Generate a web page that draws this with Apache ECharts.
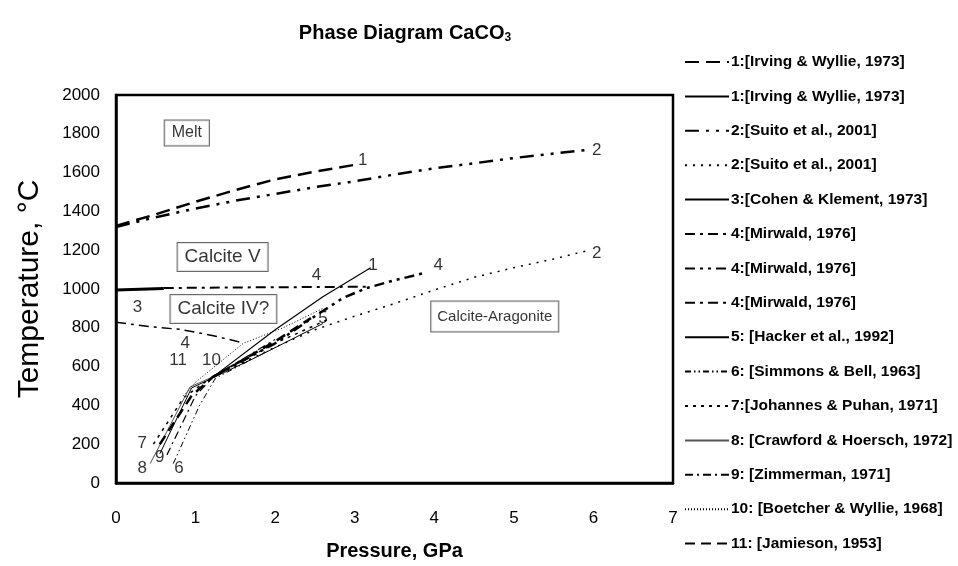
<!DOCTYPE html>
<html>
<head>
<meta charset="utf-8">
<script src="https://cdn.jsdelivr.net/npm/echarts@6/dist/echarts.min.js"></script>
<style>
html, body { margin: 0; background: #fff; }
#main { width: 958px; height: 566px; }
</style>
</head>
<body>
<div id="main"></div>
<script>
// [pressure GPa, temperature C]
var irving_melt = [[0, 1325], [0.5, 1385], [1, 1450], [1.5, 1510], [2, 1565], [2.5, 1605], [3, 1640]];
var irving_cc_ar = [[1.22, 547], [2, 790], [2.6, 960], [3.2, 1110]];
var suito_melt = [[0, 1320], [0.5, 1370], [1, 1415], [1.5, 1455], [2, 1490], [2.5, 1525], [3, 1555], [3.5, 1590], [4, 1622], [4.5, 1648], [5, 1675], [5.5, 1698], [5.95, 1718]];
var suito_cc_ar = [[1.22, 547], [2, 700], [2.5, 790], [3, 860], [3.5, 925], [4, 995], [4.5, 1060], [5, 1110], [5.5, 1155], [5.95, 1200]];
var cohen = [[0, 995], [0.6, 1003]];
var mirwald_v = [[0.6, 1005], [1.5, 1008], [2.5, 1010], [3.2, 1012]];
var mirwald_ar = [[1.22, 547], [2, 720], [2.5, 860], [2.85, 953], [3.15, 1005], [3.5, 1045], [3.9, 1085]];
var mirwald_iv = [[0, 828], [0.45, 805], [0.8, 792], [1.05, 773], [1.3, 752], [1.6, 722]];
var hacker = [[0.55, 150], [0.95, 490], [1.77, 650], [2.6, 822]];
var simmons = [[0.72, 100], [1.05, 400], [1.25, 540], [2, 700]];
var johannes = [[0.47, 200], [0.85, 440], [1.22, 550], [2, 720], [2.7, 850]];
var crawford = [[0.43, 100], [0.93, 495], [1.22, 548]];
var zimmerman = [[0.64, 145], [1, 450], [1.22, 547], [2, 740]];
var boetcher = [[0.85, 450], [1, 520], [1.6, 720], [2.1, 800], [2.6, 900]];
var jamieson = [[0.55, 200], [0.95, 450], [1.22, 547], [2, 730], [2.45, 850]];

var legend_names = [
    '1:[Irving & Wyllie, 1973]', '1:[Irving & Wyllie, 1973]#b',
    '2:[Suito et al., 2001]', '2:[Suito et al., 2001]#b',
    '3:[Cohen & Klement, 1973]',
    '4:[Mirwald, 1976]', '4:[Mirwald, 1976]#b', '4:[Mirwald, 1976]#c',
    '5: [Hacker et al., 1992]', '6: [Simmons & Bell, 1963]', '7:[Johannes & Puhan, 1971]',
    '8: [Crawford & Hoersch, 1972]', '9: [Zimmerman, 1971]', '10: [Boetcher & Wyllie, 1968]',
    '11: [Jamieson, 1953]'
];

// curve numbers written next to the lines
var curve_labels = [
    [3.1, 1665, '1'], [6.04, 1716, '2'], [3.23, 1124, '1'], [4.05, 1124, '4'],
    [2.52, 1072, '4'], [6.04, 1185, '2'], [0.27, 907, '3'], [2.6, 850, '5'],
    [0.87, 722, '4'], [0.78, 634, '11'], [1.2, 634, '10'], [0.33, 206, '7'],
    [0.55, 134, '9'], [0.33, 77, '8'], [0.79, 77, '6']
];
// phase field names
var phase_labels = [
    [0.89, 1804, 'Melt'], [1.34, 1165, 'Calcite V'],
    [1.35, 897, 'Calcite IV?'], [4.76, 858, 'Calcite-Aragonite']
];
var phase_font_sizes = [16, 19, 19, 15];

var font = 'Liberation Sans, Arial, sans-serif';

function line(name, data, width, type, color) {
    return {
        name: name,
        type: 'line',
        data: data,
        symbol: 'none',
        silent: true,
        itemStyle: { color: '#000', opacity: 0 },
        lineStyle: { color: color || '#000', width: width, type: type }
    };
}

var phase_data = phase_labels.map(function (d, i) {
    var lab = { fontSize: phase_font_sizes[i] };
    if (i == 3) {
        lab.padding = [8, 6, 7, 6];
    }
    return { value: d, label: lab };
});

var series = [
    line(legend_names[0], irving_melt, 2.5, [14, 7]),
    line(legend_names[1], irving_cc_ar, 1.2, 'solid'),
    line(legend_names[2], suito_melt, 2.5, [14, 7, 3, 7, 3, 7]),
    line(legend_names[3], suito_cc_ar, 1.5, [2, 6]),
    line(legend_names[4], cohen, 3, 'solid'),
    line(legend_names[5], mirwald_v, 2, [10, 5, 3, 5]),
    line(legend_names[6], mirwald_ar, 2.5, [10, 5, 3, 5, 3, 5]),
    line(legend_names[7], mirwald_iv, 1.5, [10, 5, 3, 5]),
    line(legend_names[8], hacker, 1, 'solid'),
    line(legend_names[9], simmons, 1, [6, 3, 1.5, 3, 1.5, 3]),
    line(legend_names[10], johannes, 1.5, [3, 5]),
    line(legend_names[11], crawford, 1, 'solid', '#555'),
    line(legend_names[12], zimmerman, 1.2, [8, 4, 2, 4]),
    line(legend_names[13], boetcher, 1, [1, 2]),
    line(legend_names[14], jamieson, 2.5, [10, 6]),
    {
        type: 'scatter',
        data: curve_labels,
        symbolSize: 0,
        silent: true,
        label: {
            show: true, position: 'inside', color: '#000',
            fontFamily: font, fontSize: 17,
            formatter: function (p) { return p.value[2]; }
        }
    },
    {
        type: 'scatter',
        data: phase_data,
        symbolSize: 0,
        silent: true,
        label: {
            show: true, position: 'inside', color: '#000',
            fontFamily: font, fontSize: 16,
            backgroundColor: '#fff', borderColor: '#444', borderWidth: 1,
            padding: [5, 7, 4, 7],
            formatter: function (p) { return p.value[2]; }
        }
    }
];

var myChart = echarts.init(document.getElementById('main'));
var option = {
    animation: false,
    backgroundColor: '#fff',
    title: {
        text: 'Phase Diagram CaCO{sub|3}',
        left: 400, top: 17, textAlign: 'center',
        textStyle: {
            fontFamily: font, fontSize: 20, fontWeight: 'bold', color: '#000',
            rich: { sub: { fontFamily: font, fontSize: 12, fontWeight: 'bold', verticalAlign: 'bottom', padding: [10, 0, 0, 0] } }
        }
    },
    legend: {
        data: legend_names,
        orient: 'vertical',
        left: 684, top: 54,
        itemWidth: 44, itemHeight: 14, itemGap: 18.4,
        padding: 0,
        selectedMode: false,
        formatter: function (name) { return name.split('#')[0]; },
        textStyle: { fontFamily: font, fontSize: 15.5, fontWeight: 'bold', color: '#000', padding: [0, 0, 0, -3] }
    },
    grid: {
        left: 116, right: 285, top: 95, bottom: 83,
        show: true, borderColor: '#000', borderWidth: 2.5
    },
    xAxis: {
        type: 'value', min: 0, max: 7, interval: 1,
        name: 'Pressure, GPa', nameLocation: 'middle', nameGap: 58,
        nameTextStyle: { fontFamily: font, fontSize: 20, fontWeight: 'bold', color: '#000' },
        axisLine: { show: true, lineStyle: { color: '#000', width: 2.5 } },
        axisTick: { show: false },
        splitLine: { show: false },
        axisLabel: { fontFamily: font, fontSize: 17, color: '#000', margin: 27 }
    },
    yAxis: {
        type: 'value', min: 0, max: 2000, interval: 200,
        name: 'Temperature, °C', nameLocation: 'middle', nameGap: 71,
        nameTextStyle: { fontFamily: font, fontSize: 30, color: '#000' },
        axisLine: { show: true, lineStyle: { color: '#000', width: 2.5 } },
        axisTick: { show: false },
        splitLine: { show: false },
        axisLabel: {
            fontFamily: font, fontSize: 17, color: '#000', margin: 16,
            formatter: function (v) { return String(v); }
        }
    },
    series: series
};
myChart.setOption(option);
</script>
</body>
</html>
